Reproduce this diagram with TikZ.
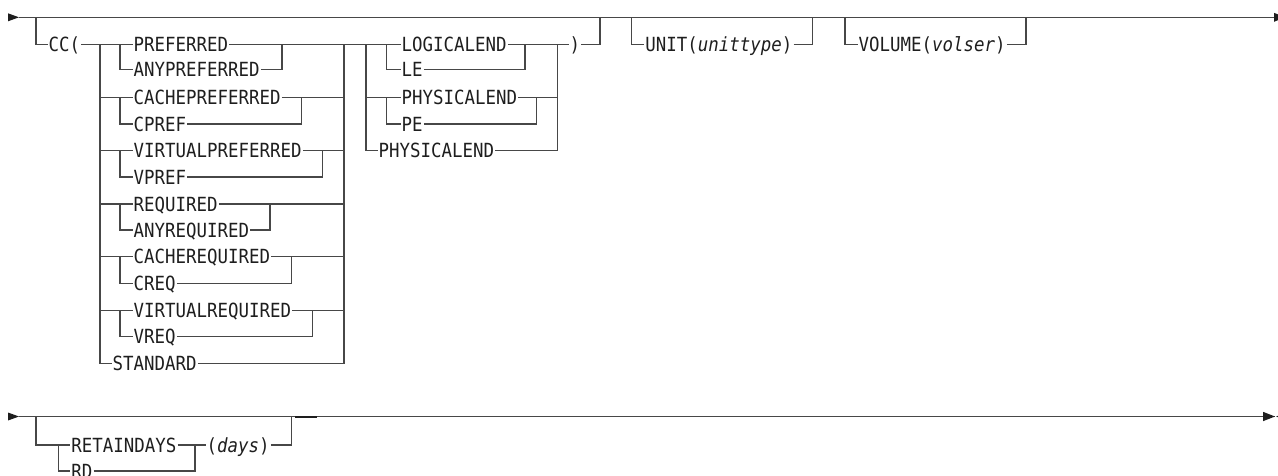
\documentclass[tikz,border=0pt]{standalone}
\usepackage{fontspec}
\newfontfamily\kwfamily{DejaVu Sans Mono}[FakeStretch=0.894]
\definecolor{ln}{HTML}{474747}
\definecolor{txt}{HTML}{1E1E1E}
\tikzset{
  kw/.style={anchor=west, inner xsep=1pt, inner ysep=0pt, text height=14.2pt, text depth=0pt,
    font={\kwfamily\fontsize{19.5}{22}\selectfont}, text=txt},
  rail/.style={draw=ln, line width=1.3pt},
  tip/.style={fill=txt, draw=none}
}
\begin{document}
\begin{tikzpicture}[x=1pt,y=-1pt]
\useasboundingbox (0,0) rectangle (1278,475);
% ---------- line 1 ----------
\coordinate (s1) at (19,17.3);
\coordinate (e1) at (1278,17.3);
\fill[tip] (8,13.3) -- (s1) -- (8,21.3) -- cycle;
\draw[rail] (s1) -- (e1);
\fill[tip] (1274,12.8) -- (1285,17.3) -- (1274,21.8) -- cycle;
\coordinate (ccL) at (36,17.3);
\coordinate (ccR) at (600,17.3);
\coordinate (unL) at (631.7,17.3);
\coordinate (unR) at (812.7,17.3);
\coordinate (voL) at (845,17.3);
\coordinate (voR) at (1026,17.3);
% CC( group
\node[kw] (cc) at (47.5,44.3) {CC(};
\draw[rail] (ccL) |- (cc.west);
% group 1 texts
\node[kw] (t1) at (132.5,44.3) {PREFERRED};
\node[kw] (t2) at (132.5,69.8) {ANYPREFERRED};
\node[kw] (t3) at (132.5,97.6) {CACHEPREFERRED};
\node[kw] (t4) at (132.5,124) {CPREF};
\node[kw] (t5) at (132.5,150.8) {VIRTUALPREFERRED};
\node[kw] (t6) at (132.5,177) {VPREF};
\node[kw] (t7) at (132.5,204) {REQUIRED};
\node[kw] (t8) at (132.5,230) {ANYREQUIRED};
\node[kw] (t9) at (132.5,256.7) {CACHEREQUIRED};
\node[kw] (t10) at (132.5,283.3) {CREQ};
\node[kw] (t11) at (132.5,310.5) {VIRTUALREQUIRED};
\node[kw] (t12) at (132.5,336.7) {VREQ};
\node[kw] (t13) at (111.5,363.3) {STANDARD};
\draw[rail] (cc.east) -- (t1.west);
% left rail of group 1
\coordinate (g1a) at (100,44.3);
\coordinate (g1b) at (100,97.6);
\coordinate (g1c) at (100,150.8);
\coordinate (g1d) at (100,204);
\coordinate (g1e) at (100,256.7);
\coordinate (g1f) at (100,310.5);
\draw[rail] (g1a) |- (t13.west);
\draw[rail] (g1b) -- (t3.west);
\draw[rail] (g1c) -- (t5.west);
\draw[rail] (g1d) -- (t7.west);
\draw[rail] (g1e) -- (t9.west);
\draw[rail] (g1f) -- (t11.west);
% inner rails
\coordinate (i1) at (120,44.3);
\coordinate (i2) at (120,97.6);
\coordinate (i3) at (120,150.8);
\coordinate (i4) at (120,204);
\coordinate (i5) at (120,256.7);
\coordinate (i6) at (120,310.5);
\draw[rail] (i1) |- (t2.west);
\draw[rail] (i2) |- (t4.west);
\draw[rail] (i3) |- (t6.west);
\draw[rail] (i4) |- (t8.west);
\draw[rail] (i5) |- (t10.west);
\draw[rail] (i6) |- (t12.west);
% right side of group 1
\coordinate (g1R1) at (344,44.3);
\coordinate (g1R3) at (344,97.6);
\coordinate (g1R5) at (344,150.8);
\coordinate (g1R7) at (344,204);
\coordinate (g1R9) at (344,256.7);
\coordinate (g1R11) at (344,310.5);
\coordinate (p1) at (282,44.3);
\coordinate (p2) at (301.7,97.6);
\coordinate (p3) at (322.7,150.8);
\coordinate (p4) at (270,204);
\coordinate (p5) at (291.5,256.7);
\coordinate (p6) at (312.7,310.5);
\draw[rail] (t1.east) -- (g1R1);
\draw[rail] (t3.east) -- (g1R3);
\draw[rail] (t5.east) -- (g1R5);
\draw[rail] (t7.east) -- (g1R7);
\draw[rail] (t9.east) -- (g1R9);
\draw[rail] (t11.east) -- (g1R11);
\draw[rail] (t2.east) -| (p1);
\draw[rail] (t4.east) -| (p2);
\draw[rail] (t6.east) -| (p3);
\draw[rail] (t8.east) -| (p4);
\draw[rail] (t10.east) -| (p5);
\draw[rail] (t12.east) -| (p6);
\draw[rail] (t13.east) -| (g1R1);
% group 2
\node[kw] (u1) at (400.5,44.3) {LOGICALEND};
\node[kw] (u2) at (400.5,69.8) {LE};
\node[kw] (u3) at (400.5,97.6) {PHYSICALEND};
\node[kw] (u4) at (400.5,124) {PE};
\node[kw] (u5) at (377.5,150.8) {PHYSICALEND};
\draw[rail] (g1R1) -- (u1.west);
\coordinate (g2a) at (366,44.3);
\coordinate (g2b) at (366,97.6);
\coordinate (j1) at (386.7,44.3);
\coordinate (j2) at (386.7,97.6);
\draw[rail] (g2a) |- (u5.west);
\draw[rail] (g2b) -- (u3.west);
\draw[rail] (j1) |- (u2.west);
\draw[rail] (j2) |- (u4.west);
\coordinate (q1) at (525,44.3);
\coordinate (q2) at (536.7,97.6);
\coordinate (g2R1) at (557.3,44.3);
\coordinate (g2R3) at (557.3,97.6);
\node[kw] (cl) at (568.5,44.3) {)};
\draw[rail] (u1.east) -- (cl.west);
\draw[rail] (u3.east) -- (g2R3);
\draw[rail] (u2.east) -| (q1);
\draw[rail] (u4.east) -| (q2);
\draw[rail] (u5.east) -| (g2R1);
\draw[rail] (cl.east) -| (ccR);
% UNIT
\node[kw] (unit) at (644.2,44.3) {UNIT(\textit{unittype})};
\draw[rail] (unL) |- (unit.west);
\draw[rail] (unit.east) -| (unR);
% VOLUME
\node[kw] (vol) at (857.5,44.3) {VOLUME(\textit{volser})};
\draw[rail] (voL) |- (vol.west);
\draw[rail] (vol.east) -| (voR);
% ---------- line 2 ----------
\coordinate (s2) at (19,416.5);
\coordinate (e2) at (1275,416.5);
\fill[tip] (8,412.5) -- (s2) -- (8,420.5) -- cycle;
\draw[rail] (s2) -- (e2);
\fill[tip] (1263,411.8) -- (e2) -- (1263,421.2) -- cycle;
\fill[tip] (1288,411.8) -- (1276.2,416.5) -- (1288,421.2) -- cycle;
\coordinate (rdL) at (36,416.5);
\coordinate (rdR) at (291.7,416.5);
\coordinate (k1) at (58.3,445);
\coordinate (k2) at (195,445);
\node[kw] (rt) at (70.2,445) {RETAINDAYS};
\node[kw] (rd) at (70.2,471) {RD};
\node[kw] (dy) at (205.5,445) {(\textit{days})};
\draw[rail] (rdL) |- (rt.west);
\draw[rail] (k1) |- (rd.west);
\draw[rail] (rt.east) -- (dy.west);
\draw[rail] (rd.east) -| (k2);
\draw[rail] (dy.east) -| (rdR);
\coordinate (m1) at (295,416.5);
\coordinate (m2) at (317,416.5);
\draw[draw=txt, line width=2pt] (m1) -- (m2);
\end{tikzpicture}
\end{document}
